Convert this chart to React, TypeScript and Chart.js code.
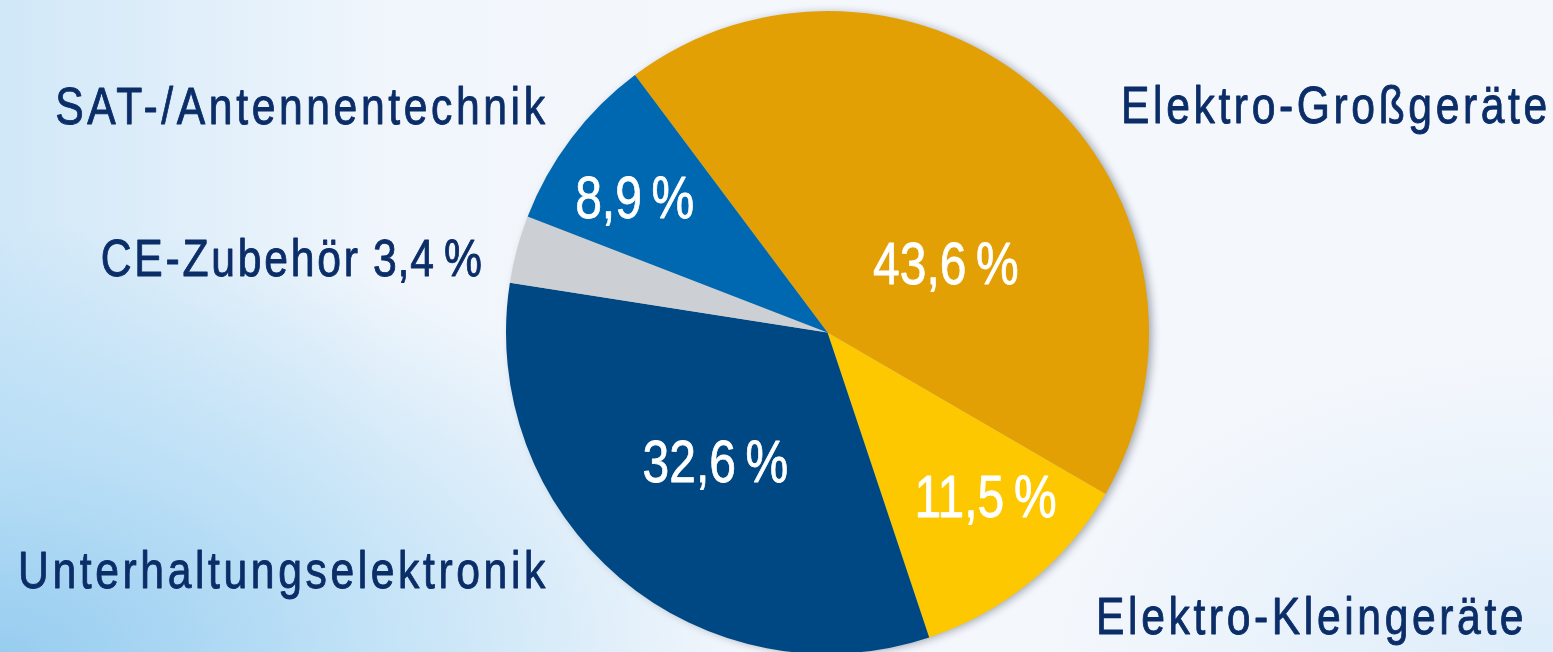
import React, { useEffect, useRef } from "react";
import { Chart, registerables } from "chart.js";

Chart.register(...registerables);

const categories = [
  "Elektro-Großgeräte",
  "Elektro-Kleingeräte",
  "Unterhaltungselektronik",
  "CE-Zubehör",
  "SAT-/Antennentechnik",
];
const shares = [43.6, 11.5, 32.6, 3.4, 8.9];
const sliceColors = ["#E2A004", "#FEC800", "#004884", "#CCD0D4", "#0067B1"];

// label layout (style only)
// inside labels: t = fraction along slice angle, f = fraction of radius; null = no inside label
const insideLayout = [
  { t: 0.625, f: 0.42 },
  { t: 0.4, f: 0.717 },
  { t: 0.5, f: 0.54 },
  null,
  { t: 0.41, f: 0.726 },
];
// outside labels: anchor x, baseline y, alignment, whether the value is appended
const outsideLayout = [
  { x: 1121, y: 123, align: "left", withValue: false },
  { x: 1096, y: 634, align: "left", withValue: false },
  { x: 18, y: 588, align: "left", withValue: false },
  { x: 482, y: 276, align: "right", withValue: true },
  { x: 545, y: 124, align: "right", withValue: false },
];

const FONT = '"Liberation Sans", Arial, sans-serif';
const NAVY = "#0B2D68";
const fmt = (v: number) => v.toFixed(1).replace(".", ",") + "\u2009%";

function drawText(
  ctx: CanvasRenderingContext2D,
  text: string,
  x: number,
  y: number,
  align: string,
  size: number,
  sx: number,
  ls: number,
  color: string,
  stroke: number,
  baseline: CanvasTextBaseline
): number {
  ctx.save();
  ctx.font = `${size}px ${FONT}`;
  (ctx as any).letterSpacing = `${ls}px`;
  ctx.textAlign = "left";
  ctx.textBaseline = baseline;
  const w = (ctx.measureText(text).width - ls) * sx;
  let left = x;
  if (align === "right") left = x - w;
  else if (align === "center") left = x - w / 2;
  ctx.translate(left, y);
  ctx.scale(sx, 1);
  ctx.fillStyle = color;
  ctx.fillText(text, 0, 0);
  if (stroke > 0) {
    ctx.strokeStyle = color;
    ctx.lineWidth = stroke;
    ctx.lineJoin = "round";
    ctx.strokeText(text, 0, 0);
  }
  ctx.restore();
  return w;
}

const labelPlugin = {
  id: "pieLabels",
  beforeDatasetsDraw(chart: any) {
    const meta = chart.getDatasetMeta(0);
    const arc = meta.data[0];
    if (!arc) return;
    const { ctx } = chart;
    ctx.save();
    ctx.shadowColor = "rgba(30,40,60,0.4)";
    ctx.shadowBlur = 9;
    ctx.shadowOffsetX = 4;
    ctx.shadowOffsetY = 1;
    ctx.beginPath();
    ctx.arc(arc.x, arc.y, arc.outerRadius - 1, 0, Math.PI * 2);
    ctx.fillStyle = "#b0b4b8";
    ctx.fill();
    ctx.restore();
  },
  afterDatasetsDraw(chart: any) {
    const { ctx } = chart;
    const meta = chart.getDatasetMeta(0);
    meta.data.forEach((el: any, i: number) => {
      const lay = insideLayout[i];
      if (!lay) return;
      const a = el.startAngle + lay.t * (el.endAngle - el.startAngle);
      const r = lay.f * el.outerRadius;
      drawText(
        ctx,
        fmt(shares[i]),
        el.x + Math.cos(a) * r,
        el.y + Math.sin(a) * r,
        "center",
        60,
        0.8,
        0,
        "#ffffff",
        0.8,
        "middle"
      );
    });
    outsideLayout.forEach((lay, i) => {
      if (lay.withValue) {
        const vw = drawText(ctx, fmt(shares[i]), lay.x, lay.y, "right", 52, 0.82, 1, NAVY, 0.9, "alphabetic");
        drawText(ctx, categories[i], lay.x - vw - 15, lay.y, "right", 52, 0.82, 3.4, NAVY, 0.9, "alphabetic");
      } else {
        drawText(ctx, categories[i], lay.x, lay.y, lay.align, 52, 0.82, 4.4, NAVY, 0.9, "alphabetic");
      }
    });
  },
};

export default function App() {
  const ref = useRef<HTMLCanvasElement | null>(null);
  useEffect(() => {
    if (!ref.current) return;
    const chart = new Chart(ref.current, {
      type: "pie",
      data: {
        labels: categories,
        datasets: [
          {
            data: shares,
            backgroundColor: sliceColors,
            borderWidth: 0,
          },
        ],
      },
      options: {
        animation: false,
        responsive: false,
        rotation: -36.8,
        layout: { padding: { left: 102, right: 0, top: 11, bottom: 0 } },
        plugins: {
          legend: { display: false },
          tooltip: { enabled: false },
        },
      },
      plugins: [labelPlugin],
    });
    return () => chart.destroy();
  }, []);
  return (
    <div
      style={{
        position: "fixed",
        left: 0,
        top: 0,
        width: 1553,
        height: 652,
        overflow: "hidden",
        background:
          "radial-gradient(ellipse 760px 430px at 0% 100%, rgba(152,205,240,1) 0%, rgba(175,218,245,0.75) 45%, rgba(220,238,250,0) 100%), linear-gradient(to right, rgba(200,228,247,0.8) 0%, rgba(235,244,251,0.4) 25%, rgba(255,255,255,0) 45%), radial-gradient(ellipse 500px 300px at 100% 100%, rgba(215,234,250,0.8) 0%, rgba(240,246,252,0) 100%), #f4f7fc",
      }}
    >
      <canvas ref={ref} width={1553} height={654} style={{ display: "block" }} />
    </div>
  );
}
